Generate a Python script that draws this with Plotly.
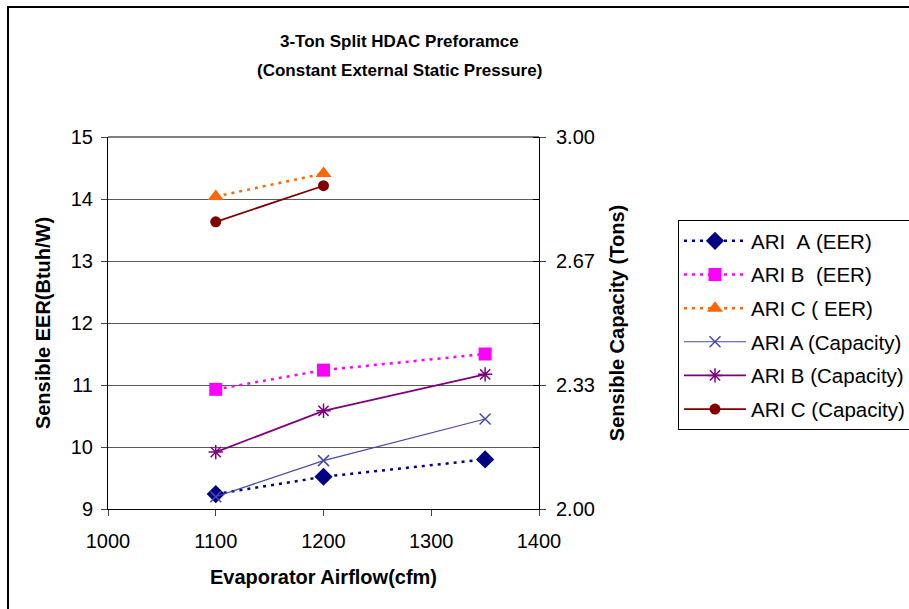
import plotly.graph_objects as go

# Evaporator airflow settings (cfm)
airflow_ab = [1100, 1200, 1350]
airflow_c = [1100, 1200]

# Sensible EER (Btuh/W)
eer_a = [9.24, 9.52, 9.80]
eer_b = [10.93, 11.24, 11.50]
eer_c = [14.04, 14.41]

# Sensible capacity (tons)
cap_a = [2.033, 2.130, 2.242]
cap_b = [2.153, 2.264, 2.362]
cap_c = [2.772, 2.869]

# Tick labels
eer_ticks = [9, 10, 11, 12, 13, 14, 15]
cap_tickvals = [2.0, 2.0 + 1 / 3, 2.0 + 2 / 3, 3.0]
cap_ticktext = ["2.00", "2.33", "2.67", "3.00"]
x_ticks = [1000, 1100, 1200, 1300, 1400]

NB = "\u00a0"
DOT = "3px,5px"

fig = go.Figure()

fig.add_trace(go.Scatter(
    x=airflow_ab, y=eer_a, name=f"ARI{NB}{NB}A{NB}(EER)", legendgroup="a1",
    mode="lines+markers",
    line=dict(color="#000080", width=2.5, dash=DOT),
    marker=dict(symbol="diamond", size=14, color="#000080"),
))
fig.add_trace(go.Scatter(
    x=airflow_ab, y=eer_b, name=f"ARI{NB}B{NB}{NB}(EER)", legendgroup="b1",
    mode="lines+markers",
    line=dict(color="#FF00FF", width=2.5, dash=DOT),
    marker=dict(symbol="square", size=13, color="#FF00FF"),
))
fig.add_trace(go.Scatter(
    x=airflow_c, y=eer_c, name=f"ARI{NB}C{NB}({NB}EER)", legendgroup="c1",
    mode="lines+markers",
    line=dict(color="#FF6600", width=2.5, dash=DOT),
    marker=dict(symbol="triangle-up", size=14, color="#FF6600"),
))
fig.add_trace(go.Scatter(
    x=airflow_ab, y=cap_a, name="ARI A (Capacity)", legendgroup="a2", yaxis="y2",
    mode="lines+markers",
    line=dict(color="#4848AA", width=1.2),
    marker=dict(symbol="x-thin-open", size=11, color="#4848AA",
                line=dict(color="#4848AA", width=1.5)),
))
fig.add_trace(go.Scatter(
    x=airflow_ab, y=cap_b, name="ARI B (Capacity)", legendgroup="b2", yaxis="y2",
    mode="lines+markers",
    line=dict(color="#800080", width=1.8),
    marker=dict(symbol="asterisk-open", size=12, color="#800080",
                line=dict(color="#800080", width=1.5)),
))
fig.add_trace(go.Scatter(
    x=airflow_c, y=cap_c, name="ARI C (Capacity)", legendgroup="c2", yaxis="y2",
    mode="lines+markers",
    line=dict(color="#800000", width=1.8),
    marker=dict(symbol="circle", size=11, color="#800000"),
))

W, H = 909, 609
L, R, T, B = 108, 539, 137, 509


def px(xp):
    return (xp - L) / (R - L)


def py(yp):
    return (B - yp) / (B - T)


font_main = "Arial, Liberation Sans, sans-serif"

fig.update_layout(
    width=W, height=H,
    margin=dict(l=L, r=W - R, t=T, b=H - B, autoexpand=False),
    paper_bgcolor="white", plot_bgcolor="white",
    font=dict(family=font_main, size=20, color="black"),
    showlegend=True,
    legend=dict(
        x=px(678), y=py(220), xanchor="left", yanchor="top",
        bgcolor="white", bordercolor="black", borderwidth=1,
        font=dict(size=20.5, family=font_main, color="black"),
        tracegroupgap=4, itemwidth=62,
    ),
    xaxis=dict(
        range=[1000, 1400], tickvals=x_ticks, ticks="outside", ticklen=6,
        ticklabelstandoff=8,
        showline=True, linecolor="black", linewidth=1, showgrid=False,
        zeroline=False, tickfont=dict(size=20),
        title=dict(text="<b>Evaporator Airflow(cfm)</b>", font=dict(size=20), standoff=18),
    ),
    yaxis=dict(
        range=[9, 15], tickvals=eer_ticks, ticks="outside", ticklen=6,
        ticklabelstandoff=4,
        showline=True, linecolor="black", linewidth=1,
        showgrid=True, gridcolor="#5a5a5a", gridwidth=1, zeroline=False,
        tickfont=dict(size=20),
        title=dict(text="<b>Sensible EER(Btuh/W)</b>", font=dict(size=20), standoff=14),
    ),
    yaxis2=dict(
        overlaying="y", side="right", range=[2, 3],
        tickvals=cap_tickvals, ticktext=cap_ticktext, ticks="outside", ticklen=6,
        ticklabelstandoff=6,
        minor=dict(tickvals=[2 + k / 6 for k in range(7)], ticks="inside", ticklen=6,
                   tickcolor="black"),
        showline=True, linecolor="black", linewidth=1, showgrid=False,
        zeroline=False, tickfont=dict(size=20),
        title=dict(text="<b>Sensible Capacity (Tons)</b>", font=dict(size=20), standoff=16),
    ),
    annotations=[
        dict(text="<b>3-Ton Split HDAC Preforamce</b>", xref="paper", yref="paper",
             x=px(399), y=py(41), showarrow=False, xanchor="center", yanchor="middle",
             font=dict(family=font_main, size=17)),
        dict(text="<b>(Constant External Static Pressure)</b>", xref="paper", yref="paper",
             x=px(399), y=py(71), showarrow=False, xanchor="center", yanchor="middle",
             font=dict(family=font_main, size=17)),
    ],
    shapes=[
        dict(type="rect", xref="paper", yref="paper",
             x0=px(8), x1=px(940), y0=py(640), y1=py(7),
             line=dict(color="black", width=2), fillcolor="rgba(0,0,0,0)", layer="below"),
        dict(type="line", xref="paper", yref="paper", x0=0, x1=1, y0=1, y1=1,
             line=dict(color="black", width=1)),
    ],
)

fig.write_html("out.html")
